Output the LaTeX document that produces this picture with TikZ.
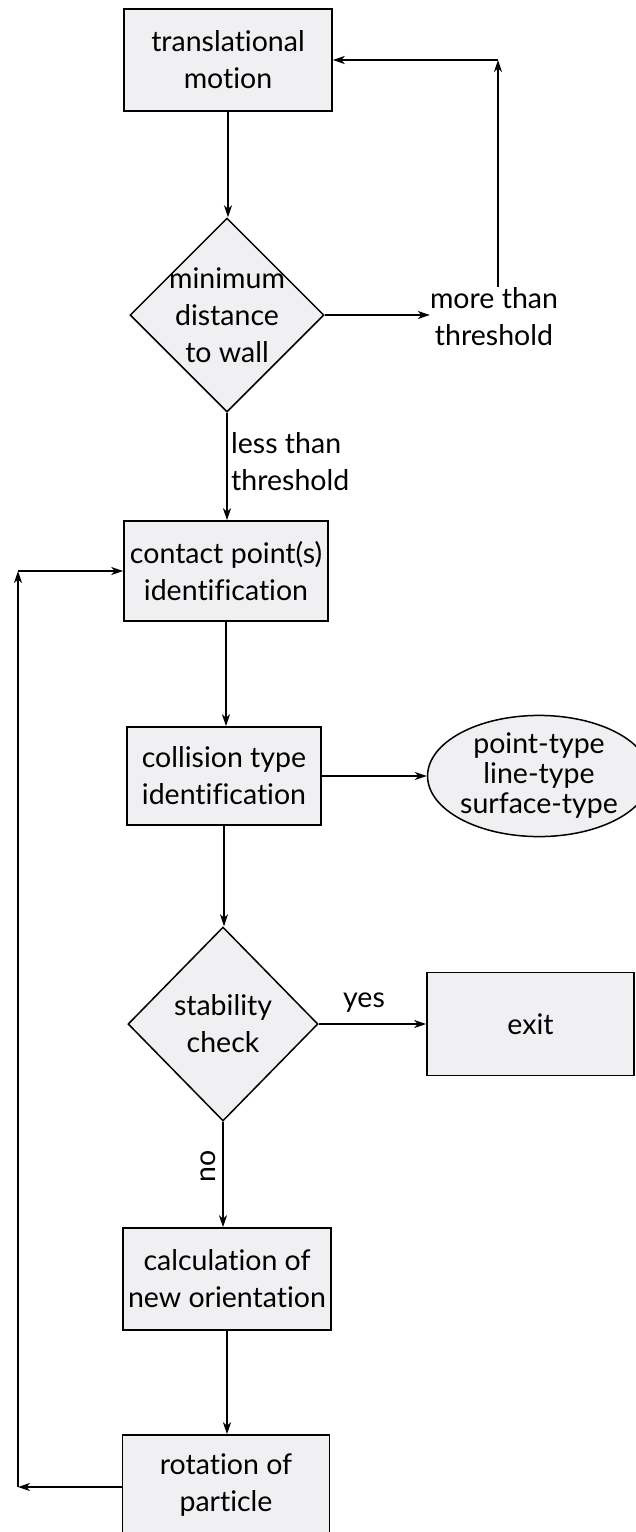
\documentclass[tikz,border=0pt]{standalone}
\usepackage{fontspec}
\setmainfont[Ligatures=NoCommon]{Lato}
\usetikzlibrary{shapes.geometric,arrows.meta}
\begin{document}
\begin{tikzpicture}[x=1pt,y=1pt,
  font=\fontsize{28.5}{37}\selectfont,
  box/.style={draw, line width=1.6pt, fill=boxfill, rectangle, align=center, inner sep=0pt, minimum width=#1, minimum height=102},
  dia/.style={draw, line width=1.5pt, fill=boxfill, diamond, inner sep=0pt, minimum width=#1, minimum height=194},
  ell/.style={draw, line width=1.5pt, fill=boxfill, ellipse, inner sep=0pt, minimum width=218, minimum height=121},
  lbl/.style={align=center, inner sep=0pt},
  arr/.style={line width=1.5pt, -{Stealth[length=12pt,width=8pt,inset=3.5pt]}},
]
\definecolor{boxfill}{HTML}{F0F0F2}
\useasboundingbox (0,0) rectangle (636,-1532);

\node[box=208] (tm) at (228,-60) {translational\\motion};
\node[dia=194, label={[lbl]center:minimum\\distance\\to wall}] (d1) at (227,-315) {};
\node[lbl, anchor=north] (mt) at (494,-287) {more than\\threshold};
\node[lbl, anchor=west, align=left] (lt) at (231,-462) {less than\\threshold};
\node[box=204, minimum height=100] (cp) at (226,-571) {contact point(s)\\identification};
\node[box=194, minimum height=98] (ct) at (224,-776) {collision type\\identification};
\node[ell, font=\fontsize{28.5}{30}\selectfont, align=center] (el) at (539,-776) {point-type\\line-type\\surface-type};
\node[dia=190, label={[lbl]center:stability\\check}] (d2) at (223,-1024) {};
\node[box=207, minimum height=103] (ex) at (530.5,-1024) {exit};
\node[lbl] (yes) at (364,-1003) {yes};
\node[lbl, rotate=90] (no) at (208,-1166) {no};
\node[box=208] (co) at (227,-1279) {calculation of\\new orientation};
\node[box=207, minimum height=100] (rp) at (226,-1485) {rotation of\\particle};

\coordinate (c1) at (498,-60);
\coordinate (lb) at (18,-1487);
\coordinate (lt2) at (18,-571);

\draw[arr] (tm.south) -- (tm.south |- d1.north);
\draw[arr] (d1.east) -- (mt.west |- d1.east);
\draw[arr] (mt.north -| c1) -- (c1);
\draw[arr] (c1) -- (tm.east);
\draw[arr] (d1.south) -- (d1.south |- cp.north);
\draw[arr] (cp.south) -- (cp.south |- ct.north);
\draw[arr] (ct.east) -- (el.west);
\draw[arr] (ct.south) -- (ct.south |- d2.north);
\draw[arr] (d2.east) -- (ex.west);
\draw[arr] (d2.south) -- (d2.south |- co.north);
\draw[arr] (co.south) -- (co.south |- rp.north);
\draw[arr] (rp.west |- lb) -- (lb);
\draw[arr] (lb) -- (lt2);
\draw[arr] (lt2) -- (cp.west);
\end{tikzpicture}
\end{document}
